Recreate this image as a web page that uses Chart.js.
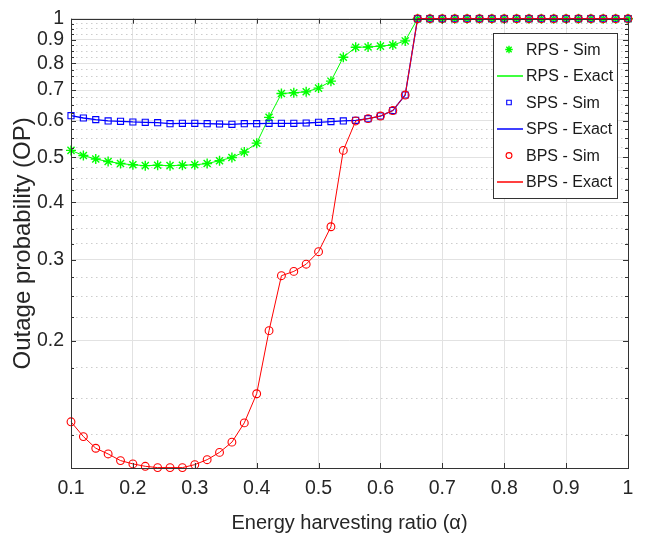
<!DOCTYPE html>
<html>
<head>
<meta charset="utf-8">
<script src="https://cdn.jsdelivr.net/npm/chart.js@4.4.1/dist/chart.umd.min.js"></script>
<style>
  html, body { margin: 0; padding: 0; background: #fff; }
</style>
</head>
<body>
<canvas id="myChart" width="648" height="542"></canvas>
<script>
// energy harvesting ratio (alpha)
const alpha = [0.10, 0.12, 0.14, 0.16, 0.18, 0.20, 0.22, 0.24, 0.26, 0.28,
               0.30, 0.32, 0.34, 0.36, 0.38, 0.40, 0.42, 0.44, 0.46, 0.48,
               0.50, 0.52, 0.54, 0.56, 0.58, 0.60, 0.62, 0.64, 0.66, 0.68,
               0.70, 0.72, 0.74, 0.76, 0.78, 0.80, 0.82, 0.84, 0.86, 0.88,
               0.90, 0.92, 0.94, 0.96, 0.98, 1.00];

const rps = [0.518, 0.505, 0.496, 0.490, 0.485, 0.482, 0.480, 0.481, 0.480, 0.481,
             0.482, 0.485, 0.492, 0.500, 0.514, 0.537, 0.611, 0.688, 0.691, 0.694,
             0.707, 0.732, 0.825, 0.867, 0.868, 0.872, 0.877, 0.895, 1, 1,
             1, 1, 1, 1, 1, 1, 1, 1, 1, 1,
             1, 1, 1, 1, 1, 1];

const sps = [0.616, 0.609, 0.604, 0.600, 0.599, 0.597, 0.596, 0.595, 0.592, 0.593,
             0.593, 0.592, 0.591, 0.590, 0.592, 0.592, 0.593, 0.593, 0.593, 0.594,
             0.596, 0.598, 0.600, 0.602, 0.607, 0.615, 0.632, 0.683, 1, 1,
             1, 1, 1, 1, 1, 1, 1, 1, 1, 1,
             1, 1, 1, 1, 1, 1];

const bps = [0.1335, 0.124, 0.117, 0.1137, 0.110, 0.1082, 0.1069, 0.1062, 0.1062, 0.1062,
             0.1078, 0.1105, 0.1146, 0.1206, 0.1328, 0.1536, 0.2105, 0.277, 0.283, 0.2934,
             0.3123, 0.3537, 0.518, 0.600, 0.607, 0.615, 0.632, 0.683, 1, 1,
             1, 1, 1, 1, 1, 1, 1, 1, 1, 1,
             1, 1, 1, 1, 1, 1];

const xTicks = [0.1, 0.2, 0.3, 0.4, 0.5, 0.6, 0.7, 0.8, 0.9, 1];
const xTickLabels = ["0.1", "0.2", "0.3", "0.4", "0.5", "0.6", "0.7", "0.8", "0.9", "1"];
const yMajor = [0.2, 0.3, 0.4, 0.5, 0.6, 0.7, 0.8, 0.9, 1];
const yMajorLabels = ["0.2", "0.3", "0.4", "0.5", "0.6", "0.7", "0.8", "0.9", "1"];
const yMin = 0.106;

// minor ticks every 0.025 like the original
let yMinor = [];
for (let k = 5; k < 40; k++) {
  let v = +(k * 0.025).toFixed(3);
  if (v > yMin && !yMajor.some(m => Math.abs(m - v) < 1e-9)) yMinor.push(v);
}
const yAll = yMinor.concat(yMajor).sort((a, b) => a - b);
function isMajor(v) { return yMajor.some(m => Math.abs(m - v) < 1e-9); }

const FONT = "'Liberation Sans', Arial, Helvetica, sans-serif";
const GREEN = "rgb(0, 255, 0)", BLUE = "rgb(0, 0, 255)", RED = "rgb(255, 0, 0)";

function pts(arr) { return arr.map((v, i) => ({ x: alpha[i], y: v })); }

function simSet(label, arr, color, style, r, bw, order) {
  return { label: label, data: pts(arr), showLine: false, borderColor: color,
    backgroundColor: "rgba(0,0,0,0)", pointStyle: style, pointRadius: r,
    pointBorderWidth: bw, pointBorderColor: color, pointBackgroundColor: "rgba(0,0,0,0)",
    clip: false, order: order };
}
function exactSet(label, arr, color, w, order) {
  return { label: label, data: pts(arr), borderColor: color, borderWidth: w,
    pointRadius: 0, tension: 0, fill: false, clip: false, order: order };
}

// box, inward ticks and the legend inside the axes
const matlabBox = {
  id: "matlabBox",
  afterDatasetsDraw(chart) {
    const ctx = chart.ctx, a = chart.chartArea;
    const xs = chart.scales.x, ys = chart.scales.y;
    ctx.save();
    ctx.strokeStyle = "#333";
    ctx.lineWidth = 1;
    ctx.beginPath();
    xTicks.forEach(v => {
      const px = Math.round(xs.getPixelForValue(v)) + 0.5;
      ctx.moveTo(px, a.bottom); ctx.lineTo(px, a.bottom - 5);
      ctx.moveTo(px, a.top); ctx.lineTo(px, a.top + 5);
    });
    yAll.forEach(v => {
      const py = Math.round(ys.getPixelForValue(v)) + 0.5;
      const len = isMajor(v) ? 5 : 3;
      ctx.moveTo(a.left, py); ctx.lineTo(a.left + len, py);
      ctx.moveTo(a.right, py); ctx.lineTo(a.right - len, py);
    });
    ctx.stroke();
    ctx.strokeRect(Math.round(a.left) + 0.5, Math.round(a.top) + 0.5,
      Math.round(a.right - a.left), Math.round(a.bottom - a.top));
    ctx.restore();
  },
  afterDraw(chart) {
    const ctx = chart.ctx, a = chart.chartArea;
    const w = 124, h = 165;
    const left = Math.round(a.right - 11 - w), top = Math.round(a.top + 14);
    ctx.save();
    ctx.fillStyle = "#fff";
    ctx.fillRect(left, top, w, h);
    ctx.strokeStyle = "#333";
    ctx.lineWidth = 1;
    ctx.strokeRect(left + 0.5, top + 0.5, w, h);
    ctx.font = "16px " + FONT;
    ctx.textBaseline = "middle";
    ctx.textAlign = "left";
    chart.data.datasets.forEach((ds, i) => {
      const cy = top + 16.5 + i * 26.5;
      if (ds.showLine === false) {
        const opts = { pointStyle: ds.pointStyle, radius: ds.pointRadius * 0.75,
          borderWidth: ds.pointBorderWidth, rotation: 0 };
        ctx.strokeStyle = ds.pointBorderColor;
        ctx.fillStyle = "rgba(0,0,0,0)";
        ctx.lineWidth = ds.pointBorderWidth;
        Chart.helpers.drawPoint(ctx, opts, left + 16, cy);
      } else {
        ctx.strokeStyle = ds.borderColor;
        ctx.lineWidth = 1.5;
        ctx.beginPath();
        ctx.moveTo(left + 4, cy); ctx.lineTo(left + 30, cy);
        ctx.stroke();
      }
      ctx.fillStyle = "#1a1a1a";
      ctx.fillText(ds.label, left + 33, cy + 1);
    });
    ctx.restore();
  }
};

const config = {
  type: "line",
  data: {
    datasets: [
      simSet("RPS - Sim", rps, GREEN, "star", 5, 1.4, 6),
      exactSet("RPS - Exact", rps, GREEN, 1, 5),
      simSet("SPS - Sim", sps, BLUE, "rect", 4.3, 1.1, 4),
      exactSet("SPS - Exact", sps, BLUE, 1.3, 3),
      simSet("BPS - Sim", bps, RED, "circle", 3.9, 1.1, 2),
      exactSet("BPS - Exact", bps, RED, 1, 1),
    ],
  },
  options: {
    responsive: false,
    animation: false,
    layout: { padding: { top: 13, right: 20, left: 0, bottom: 0 } },
    plugins: { legend: { display: false }, tooltip: { enabled: false } },
    scales: {
      x: {
        type: "linear",
        min: 0.1,
        max: 1,
        afterBuildTicks: s => { s.ticks = xTicks.map(v => ({ value: v })); },
        afterFit: s => { s.height = 74; },
        ticks: {
          autoSkip: false, maxRotation: 0, padding: 9,
          color: "#262626", font: { family: FONT, size: 19.5 },
          callback: (v, i) => xTickLabels[i],
        },
        grid: { color: "#e2e2e2", lineWidth: 1, drawTicks: false },
        border: { display: false },
        title: {
          display: true, text: "Energy harvesting ratio (\u03b1)",
          color: "#262626", font: { family: FONT, size: 20 },
          padding: { top: 0, bottom: 7 },
        },
      },
      y: {
        type: "logarithmic",
        min: yMin,
        max: 1,
        afterBuildTicks: s => { s.ticks = yAll.map(v => ({ value: v })); },
        afterFit: s => { s.width = 71; },
        ticks: {
          autoSkip: false, padding: 7,
          color: "#262626", font: { family: FONT, size: 19.5 },
          callback: v => {
            const k = yMajor.findIndex(m => Math.abs(m - v) < 1e-9);
            return k >= 0 ? yMajorLabels[k] : "";
          },
        },
        grid: {
          drawTicks: false, lineWidth: 1,
          color: c => (c.tick && isMajor(c.tick.value)) ? "#e2e2e2" : "#cdcdcd",
        },
        border: {
          display: false,
          dash: c => (c.tick && !isMajor(c.tick.value)) ? [1.5, 3.5] : [],
        },
        title: {
          display: true, text: "Outage probability (OP)",
          color: "#262626", font: { family: FONT, size: 24 },
          padding: { top: 9, bottom: 0 },
        },
      },
    },
  },
  plugins: [matlabBox],
};

var myChart = new Chart(document.getElementById("myChart"), config);
</script>
</body>
</html>
